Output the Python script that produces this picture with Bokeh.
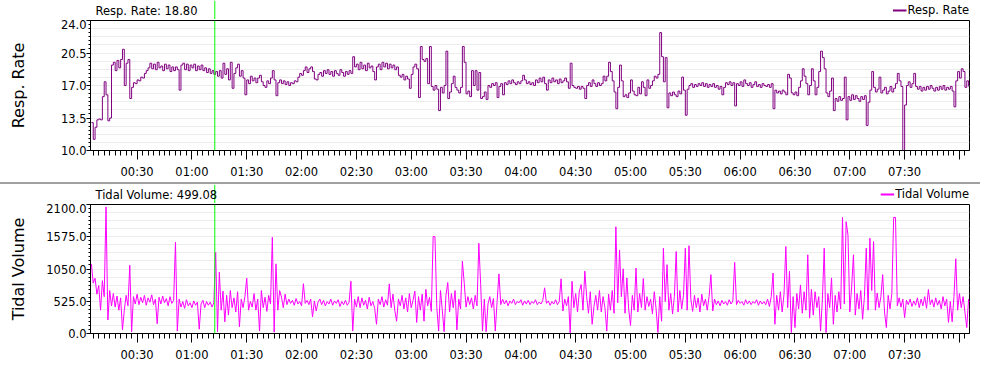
from bokeh.plotting import figure
from bokeh.models import (Range1d, FixedTicker, PrintfTickFormatter, Span, Label,
                          Legend, LegendItem, Div)
from bokeh.layouts import column
from bokeh.embed import file_html
from bokeh.resources import INLINE

# ---------------- data ----------------
START_MINUTE = 5          # first sample, minutes after 00:00, one sample per minute

resp_rate = [
    13.0, 11.2, 12.5, 13.3, 13.4, 13.3, 15.8, 17.4, 16.0, 13.2,
    13.5, 19.2, 19.5, 18.6, 19.7, 18.9, 19.8, 20.9, 17.0, 19.4,
    19.8, 15.6, 16.8, 17.3, 17.2, 17.6, 17.5, 17.9, 17.8, 18.3,
    18.6, 18.9, 19.4, 18.8, 19.3, 18.7, 19.5, 18.9, 19.1, 18.6,
    19.3, 18.8, 19.2, 18.5, 19.0, 18.6, 19.0, 18.7, 16.5, 19.2,
    19.4, 18.7, 19.3, 18.6, 19.2, 18.9, 19.3, 18.6, 19.1, 18.7,
    19.2, 18.6, 18.9, 18.4, 18.8, 18.3, 18.6, 18.2, 18.5, 18.0,
    18.6, 17.8, 19.4, 18.2, 18.8, 17.6, 19.5, 16.7, 18.3, 18.9,
    19.3, 18.0, 18.6, 17.8, 16.0, 17.6, 17.2, 18.0, 17.5, 17.8,
    17.3, 17.8, 18.1, 17.4, 17.0, 16.8, 17.5, 17.2, 17.8, 18.6,
    17.6, 15.9, 17.3, 17.6, 17.2, 17.5, 17.1, 17.4, 17.0, 17.3,
    17.2, 17.5, 17.4, 17.9, 18.3, 18.1, 18.6, 19.0, 18.4, 18.8,
    19.0, 18.5, 17.7, 17.6, 18.2, 18.4, 18.0, 18.6, 18.3, 18.7,
    18.2, 18.5, 18.0, 18.6, 18.3, 18.1, 18.7, 18.4, 18.0, 18.5,
    18.2, 18.6, 18.3, 20.1, 19.0, 19.3, 18.7, 19.5, 18.8, 19.2,
    18.6, 19.4, 18.9, 19.1, 18.5, 17.6, 19.0, 19.3, 18.7, 19.5,
    19.0, 19.4, 18.8, 19.3, 18.9, 19.2, 18.7, 19.0, 18.1, 17.9,
    18.2, 17.6, 18.0, 17.7, 16.7, 18.2, 19.0, 19.3, 18.8, 15.7,
    21.2, 19.8, 19.6, 19.9, 17.2, 21.2, 16.9, 16.5, 17.0, 16.6,
    14.3, 16.8, 16.2, 17.0, 20.7, 15.6, 16.3, 17.2, 18.0, 16.8,
    16.5, 16.2, 16.8, 21.2, 19.5, 16.1, 16.4, 15.8, 18.6, 17.0,
    18.6, 16.5, 18.4, 15.6, 15.8, 16.3, 15.5, 17.0, 16.8, 17.2,
    17.0, 17.3, 15.7, 16.9, 17.2, 16.0, 17.3, 17.1, 17.5, 17.2,
    17.6, 17.3, 17.1, 17.4, 17.2, 17.5, 18.1, 17.6, 17.2, 17.4,
    17.1, 17.3, 17.0, 17.6, 17.3, 17.8, 17.4, 17.9, 17.2, 16.5,
    17.6, 17.3, 17.8, 17.4, 17.6, 17.2, 17.7, 17.3, 17.5, 17.8,
    17.4, 16.7, 19.4, 17.0, 16.8, 16.7, 16.9, 16.6, 16.9, 16.7,
    15.6, 17.0, 17.3, 16.9, 17.6, 17.2, 16.9, 17.3, 17.0, 17.2,
    18.0, 17.5, 18.0, 19.5, 18.5, 17.5, 16.3, 14.5, 16.8, 19.2,
    17.5, 15.8, 16.0, 15.7, 16.2, 17.6, 16.4, 16.0, 15.9, 16.8,
    16.1, 17.4, 16.8, 15.9, 17.6, 16.7, 17.0, 17.5, 18.0, 17.8,
    18.2, 22.7, 20.1, 17.4, 20.0, 14.6, 16.2, 15.9, 16.3, 16.0,
    15.8, 16.4, 16.1, 17.9, 16.5, 13.8, 16.6, 17.0, 17.2, 16.8,
    17.1, 16.9, 17.2, 17.0, 17.3, 16.9, 17.2, 16.8, 17.1, 16.9,
    17.2, 16.8, 17.0, 16.6, 16.9, 16.0, 16.8, 17.3, 17.1, 17.4,
    17.0, 17.3, 14.8, 17.2, 17.0, 17.4, 16.9, 17.6, 17.2, 17.0,
    17.3, 16.8, 17.1, 17.4, 16.9, 17.1, 16.8, 17.2, 17.0, 16.9,
    17.1, 16.8, 17.2, 14.5, 16.5, 16.2, 16.4, 16.1, 16.5, 16.3,
    16.0, 18.2, 17.8, 16.2, 16.0, 16.3, 15.9, 16.8, 17.5, 18.8,
    18.0, 17.2, 16.0, 17.0, 18.8, 17.5, 16.0, 16.8, 18.5, 20.7,
    20.0, 18.8, 16.2, 15.8, 16.4, 17.8, 14.3, 15.6, 15.3, 15.8,
    15.4, 15.6, 17.9, 13.3, 15.8, 15.4, 16.0, 15.5, 15.9, 15.6,
    15.3, 15.8, 15.5, 15.9, 12.7, 15.2, 16.5, 18.5, 16.8, 16.3,
    16.6, 17.9, 16.2, 16.5, 16.8, 16.1, 16.4, 16.9, 16.3, 16.7,
    17.2, 18.3, 17.5, 16.9, 10.0, 14.9, 17.0, 17.4, 16.8, 17.2,
    18.3, 16.9, 16.6, 16.9, 16.4, 16.8, 16.5, 16.9, 16.6, 17.0,
    16.7, 16.4, 16.8, 16.5, 16.9, 16.6, 17.0, 16.5, 16.8, 16.6,
    16.9, 16.4, 14.7, 17.5, 18.5, 17.8, 18.8, 18.5, 16.8, 17.5, 16.9,
]

tidal_volume = [
    1130, 820, 900, 640, 780, 380, 860, 600, 2060, 220,
    700, 450, 650, 430, 610, 380, 580, 60, 380, 620,
    450, 1110, 30, 600, 480, 640, 470, 590, 500, 620,
    460, 580, 510, 630, 470, 560, 160, 590, 480, 610,
    500, 570, 450, 600, 490, 540, 1485, 40, 560, 430,
    520, 410, 550, 450, 500, 420, 530, 460, 510, 70,
    480, 540, 420, 520, 460, 510, 430, 500, 1320, 30,
    1000, 380, 690, 190, 620, 300, 700, 420, 580, 350,
    680, 110, 560, 420, 600, 900, 380, 520, 430, 650,
    380, 560, 40, 700, 420, 590, 360, 620, 480, 1566,
    20, 1134, 380, 700, 594, 420, 640, 470, 560, 490,
    540, 460, 570, 480, 520, 450, 810, 490, 540, 470,
    560, 270, 530, 366, 510, 560, 470, 540, 450, 520,
    480, 560, 460, 530, 490, 550, 440, 520, 470, 540,
    460, 510, 851, 43, 560, 430, 600, 420, 580, 460,
    540, 400, 590, 450, 520, 410, 150, 560, 470, 600,
    430, 550, 460, 808, 420, 640, 380, 200, 560, 450,
    620, 400, 580, 350, 650, 420, 540, 690, 180, 600,
    380, 640, 200, 720, 450, 590, 360, 1580, 1575, 420,
    40, 700, 380, 30, 620, 830, 350, 650, 420, 700,
    60, 560, 400, 1177, 824, 430, 600, 470, 580, 400,
    620, 450, 1468, 797, 40, 560, 30, 480, 600, 420,
    570, 40, 520, 970, 470, 560, 480, 540, 450, 530,
    490, 560, 470, 520, 500, 550, 460, 530, 480, 540,
    470, 520, 490, 550, 470, 510, 480, 540, 743, 490,
    530, 460, 520, 480, 550, 470, 520, 890, 366, 560,
    450, 600, 0, 850, 420, 650, 350, 690, 797, 380,
    1015, 600, 330, 680, 150, 440, 620, 380, 700, 350,
    600, 420, 40, 640, 380, 700, 330, 1738, 500, 1360,
    600, 1053, 330, 905, 400, 130, 620, 380, 1066, 350,
    650, 420, 894, 380, 600, 440, 560, 320, 680, 400,
    16, 600, 200, 1389, 520, 1120, 380, 650, 320, 600,
    1335, 350, 700, 400, 620, 1389, 380, 1430, 560, 360,
    620, 420, 580, 350, 640, 450, 560, 380, 600, 958,
    366, 560, 470, 530, 450, 540, 480, 520, 460, 550,
    480, 530, 1158, 470, 540, 490, 520, 460, 550, 480,
    530, 470, 520, 490, 550, 460, 530, 480, 520, 470,
    560, 440, 600, 985, 150, 620, 380, 680, 350, 640,
    1416, 420, 1012, 16, 600, 97, 650, 400, 790, 330,
    680, 380, 1281, 250, 720, 300, 680, 420, 600, 40,
    560, 1389, 16, 650, 420, 905, 150, 620, 350, 680,
    400, 1890, 480, 1820, 1605, 350, 760, 1281, 300, 650,
    400, 700, 232, 600, 1389, 380, 1551, 700, 1497, 380,
    660, 420, 600, 958, 350, 97, 620, 400, 650, 1890,
    1890, 450, 580, 430, 560, 258, 540, 470, 560, 440,
    530, 460, 580, 420, 560, 450, 600, 410, 716, 470,
    550, 430, 580, 460, 540, 400, 600, 450, 560, 180,
    520, 190, 600, 1217, 380, 650, 420, 600, 350, 97, 560,
]

resp_minutes = [START_MINUTE + i for i in range(len(resp_rate))]
tidal_minutes = [START_MINUTE + i for i in range(len(tidal_volume))]

x_tick_minutes = [30, 60, 90, 120, 150, 180, 210, 240, 270, 300, 330, 360, 390, 420, 450, 480]
x_tick_labels = ["00:30", "01:00", "01:30", "02:00", "02:30", "03:00", "03:30", "04:00",
                 "04:30", "05:00", "05:30", "06:00", "06:30", "07:00", "07:30", ""]
resp_ticks = [10.0, 13.5, 17.0, 20.5, 24.0]
tidal_ticks = [0.0, 525.0, 1050.0, 1575.0, 2100.0]

cursor_minute = 72.5
resp_readout = "18.80"
tidal_readout = "499.08"

# ---------------- styling ----------------
FONT = "DejaVu Sans"
SMALL = "11.5px"
W = 980
BORDER_L, BORDER_R = 90, 11
X_RANGE = Range1d(4.5, 485.5)
CURSOR = "#00ff00"
NAN = float("nan")


def make_header(height, name, readout, color):
    h = figure(width=W, height=height, title=None, x_range=X_RANGE,
               y_range=Range1d(0, 1), x_axis_location=None, y_axis_location=None,
               output_backend="svg", toolbar_location=None,
               min_border_left=BORDER_L, min_border_right=BORDER_R,
               min_border_top=0, min_border_bottom=0)
    h.outline_line_color = None
    h.xgrid.visible = False
    h.ygrid.visible = False
    h.add_layout(Span(location=cursor_minute, dimension="height",
                      line_color=CURSOR, line_width=1))
    h.add_layout(Label(x=5, y=height / 2.0 - 0.5, x_units="screen", y_units="screen",
                       text=f"{name}: {readout}", text_font=FONT,
                       text_font_size=SMALL, text_color="black",
                       text_baseline="middle", text_align="left"))
    # legend swatch only (no visible data)
    sample = h.line(x=[NAN], y=[NAN], line_color=color, line_width=2)
    leg = Legend(items=[LegendItem(label=name, renderers=[sample])],
                 location="center_right", orientation="horizontal",
                 glyph_width=14, glyph_height=10, label_height=10,
                 label_standoff=1, padding=0, margin=0, spacing=0,
                 label_text_font=FONT, label_text_font_size=SMALL,
                 label_text_color="black", label_text_baseline="middle",
                 border_line_alpha=0, background_fill_alpha=0)
    h.add_layout(leg)
    return h


def make_panel(height, bottom, yticks, ylabel, ylabel_standoff):
    p = figure(width=W, height=height, title=None, x_range=X_RANGE,
               y_range=Range1d(yticks[0], yticks[-1]),
               output_backend="svg", toolbar_location=None,
               min_border_left=BORDER_L, min_border_right=BORDER_R,
               min_border_top=1, min_border_bottom=bottom)
    p.outline_line_color = "black"
    p.outline_line_alpha = 1.0
    p.outline_line_width = 1

    xa = p.xaxis[0]
    xa.ticker = FixedTicker(ticks=x_tick_minutes, minor_ticks=list(range(6, 486, 3)))
    xa.major_label_overrides = dict(zip(x_tick_minutes, x_tick_labels))
    xa.major_tick_in = 0
    xa.major_tick_out = 9
    xa.minor_tick_in = 0
    xa.minor_tick_out = 5
    xa.major_label_standoff = 5
    xa.axis_line_color = "black"
    xa.major_tick_line_color = "black"
    xa.minor_tick_line_color = "black"
    xa.major_label_text_font = FONT
    xa.major_label_text_font_size = SMALL
    xa.major_label_text_color = "black"

    step = (yticks[1] - yticks[0]) / 8.0
    minor = [yticks[0] + step * i for i in range(33) if i % 8]
    ya = p.yaxis[0]
    ya.ticker = FixedTicker(ticks=yticks, minor_ticks=minor)
    ya.formatter = PrintfTickFormatter(format="%.1f")
    ya.major_tick_in = 0
    ya.major_tick_out = 4
    ya.minor_tick_in = 0
    ya.minor_tick_out = 2
    ya.major_label_standoff = 0
    ya.axis_line_color = "black"
    ya.major_tick_line_color = "black"
    ya.minor_tick_line_color = "black"
    ya.major_label_text_font = FONT
    ya.major_label_text_font_size = SMALL
    ya.major_label_text_color = "black"
    ya.axis_label = ylabel
    ya.axis_label_text_font = FONT
    ya.axis_label_text_font_size = "16px"
    ya.axis_label_text_font_style = "normal"
    ya.axis_label_text_color = "black"
    ya.axis_label_standoff = ylabel_standoff

    p.xgrid.visible = False
    quarter = (yticks[1] - yticks[0]) / 4.0
    p.ygrid.ticker = FixedTicker(ticks=[yticks[0] + quarter * i for i in range(1, 16)])
    p.ygrid.grid_line_color = "#ececec"
    p.ygrid.grid_line_width = 1

    p.add_layout(Span(location=cursor_minute, dimension="height",
                      line_color=CURSOR, line_width=1))
    return p


h1 = make_header(19, "Resp. Rate", resp_readout, "#800080")
p1 = make_panel(163, 32, resp_ticks, "Resp. Rate", 30)
p1.step(resp_minutes, resp_rate, mode="after", line_color="#800080", line_width=1)

sep = Div(text="", width=W, height=2, margin=0,
          styles={"background-color": "#a0a0a0"})

h2 = make_header(19, "Tidal Volume", tidal_readout, "#ff00ff")
p2 = make_panel(161, 30, tidal_ticks, "Tidal Volume", 15)
p2.line(tidal_minutes, tidal_volume, line_color="#ff00ff", line_width=1)

layout = column(h1, p1, sep, h2, p2, spacing=0)

open("out.html", "w").write(file_html(layout, INLINE))
